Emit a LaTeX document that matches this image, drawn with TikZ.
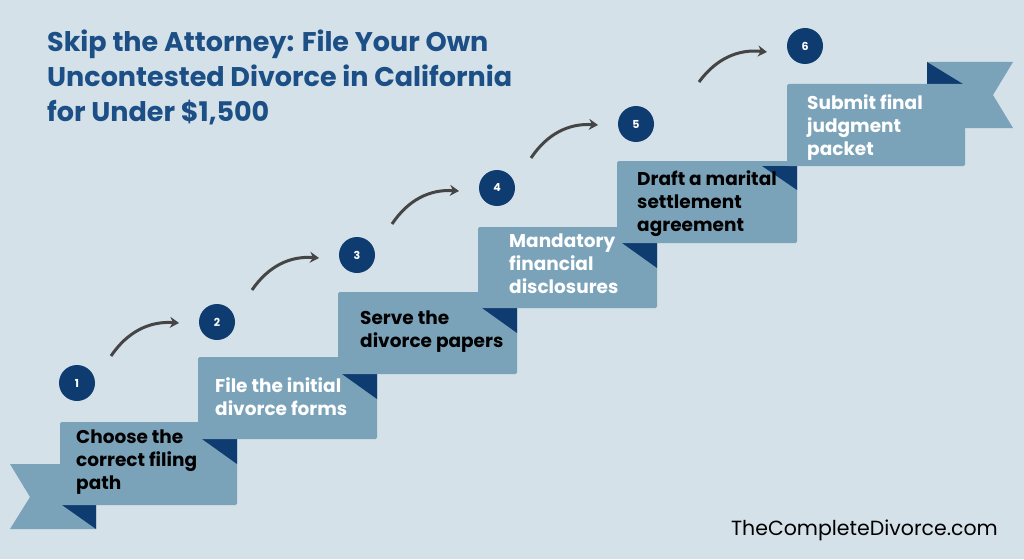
\documentclass[tikz,border=0pt]{standalone}
\usepackage{fontspec}
\setmainfont{Poppins}
\definecolor{bg}{HTML}{D5E1E8}
\definecolor{boxc}{HTML}{7AA3BA}
\definecolor{darkc}{HTML}{0E3C70}
\definecolor{titlec}{HTML}{1B4F85}
\definecolor{arr}{HTML}{454545}
\begin{document}
\begin{tikzpicture}[x=1pt,y=-1pt,
  stepbox/.style={fill=boxc,rounded corners=1.5pt},
  fold/.style={fill=darkc},
  num/.style={circle,fill=darkc,minimum size=36pt,inner sep=0pt,text=white,font=\fontsize{11}{11}\selectfont\bfseries},
  lbl/.style={anchor=north west,align=left,inner sep=0pt,font=\fontsize{18.5}{23}\selectfont\bfseries},
  curv/.style={draw=arr,line width=3pt,-{Stealth[length=9pt,width=11pt]},bend left=30}]
\useasboundingbox[fill=bg] (0,0) rectangle (1024,559);
\usetikzlibrary{arrows.meta}
% tails
\fill[boxc] (10,464) -- (96,464) -- (96,529) -- (10,529) -- (30,497) -- cycle;
\fill[darkc] (62,505) -- (96,505) -- (96,529) -- cycle;
\fill[boxc] (927,62) -- (1013,62) -- (993,95) -- (1013,128) -- (927,128) -- cycle;
\fill[darkc] (927,62) -- (963,84) -- (927,84) -- cycle;
% boxes
\fill[stepbox] (60,422) rectangle (237,505);
\fill[fold] (202,439) -- (237,439) -- (237,464) -- cycle;
\fill[stepbox] (198,357) rectangle (377,439);
\fill[fold] (342,374) -- (377,374) -- (377,399) -- cycle;
\fill[stepbox] (338,292) rectangle (517,374);
\fill[fold] (482,308) -- (517,308) -- (517,333) -- cycle;
\fill[stepbox] (478,227) rectangle (657,308);
\fill[fold] (622,243) -- (657,243) -- (657,268) -- cycle;
\fill[stepbox] (617,161) rectangle (797,243);
\fill[fold] (762,166) -- (797,166) -- (797,190) -- cycle;
\fill[stepbox] (787,84) rectangle (965,166);
% labels
\node[lbl,text=black] (t1) at (76,430) {Choose the\\correct filing\\path};
\node[lbl,text=white] (t2) at (215,377) {File the initial\\divorce forms};
\node[lbl,text=black] (t3) at (360,311) {Serve the\\divorce papers};
\node[lbl,text=white] (t4) at (509,234) {Mandatory\\financial\\disclosures};
\node[lbl,text=black] (t5) at (637,170) {Draft a marital\\settlement\\agreement};
\node[lbl,text=white] (t6) at (807,94) {Submit final\\judgment\\packet};
% numbers
\node[num] (n1) at (77,383) {1};
\node[num] (n2) at (217,322) {2};
\node[num] (n3) at (357,255) {3};
\node[num] (n4) at (497,188) {4};
\node[num] (n5) at (636,124) {5};
\node[num] (n6) at (805,46) {6};
\coordinate (a1) at (111,356); \coordinate (b1) at (179,323);
\coordinate (a2) at (252,290); \coordinate (b2) at (319,258);
\coordinate (a3) at (392,224); \coordinate (b3) at (459,191);
\coordinate (a4) at (531,158); \coordinate (b4) at (598,125);
\coordinate (a5) at (699,82); \coordinate (b5) at (767,52);
\foreach \i in {1,...,5}{\draw[curv] (a\i) to (b\i);}
% title
\node[anchor=north west,align=left,inner sep=0pt,text=titlec,font=\fontsize{27}{35}\selectfont\bfseries] (title) at (47,30) {Skip the Attorney: File Your Own\\Uncontested Divorce in California\\for Under \$1,500};
\node[anchor=south east,inner sep=0pt,font=\fontsize{20.5}{20.5}\selectfont] (foot) at (998,541) {TheCompleteDivorce.com};
\end{tikzpicture}
\end{document}
